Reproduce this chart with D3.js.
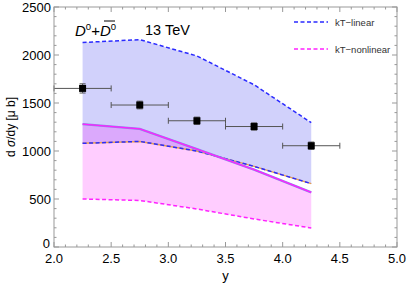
<!DOCTYPE html>
<html>
<head>
<meta charset="utf-8">
<script src="https://cdn.jsdelivr.net/npm/d3@7"></script>
<style>
  body { margin: 0; background: #fff; }
  text { font-family: "Liberation Sans", Arial, sans-serif; }
</style>
</head>
<body>
<div id="chart"></div>
<script>
// Data
const rapidity = [2.25, 2.75, 3.25, 3.75, 4.25];
const linearUpper = [2130, 2160, 1990, 1690, 1295];
const linearLower = [1080, 1100, 1000, 840, 660];
const nonlinUpper = [1280, 1230, 1020, 805, 570];
const nonlinLower = [500, 485, 396, 292, 198];

const dataY = [1652, 1479, 1315, 1255, 1055];
const dataYErr = [48, 40, 38, 38, 38];
const dataXErr = 0.25;

const xTicks = [2.0, 2.5, 3.0, 3.5, 4.0, 4.5, 5.0];
const yTicks = [0, 500, 1000, 1500, 2000, 2500];

const W = 407, H = 288;
const margin = { top: 7, right: 10, bottom: 41, left: 54 };

const svg = d3.select("#chart").append("svg").attr("width", W).attr("height", H);

const x = d3.scaleLinear().domain([2, 5]).range([margin.left, W - margin.right]);
const y = d3.scaleLinear().domain([0, 2500]).range([H - margin.bottom, margin.top]);

const band = (lo, hi) => d3.area()
    .x((d, i) => x(rapidity[i]))
    .y0((d, i) => y(lo[i]))
    .y1((d, i) => y(hi[i]))(rapidity);
const line = vals => d3.line().x((d, i) => x(rapidity[i])).y(d => y(d))(vals);

// Bands
svg.append("path").attr("d", band(linearLower, linearUpper))
    .attr("fill", "rgb(40,40,235)").attr("fill-opacity", 0.21);
svg.append("path").attr("d", band(nonlinLower, nonlinUpper))
    .attr("fill", "rgb(255,40,255)").attr("fill-opacity", 0.23);

// Curves
svg.append("path").attr("d", line(linearUpper)).attr("fill", "none")
    .attr("stroke", "#2a2aff").attr("stroke-width", 1.5).attr("stroke-dasharray", "4,2.5");
svg.append("path").attr("d", line(linearLower)).attr("fill", "none")
    .attr("stroke", "#e8a050").attr("stroke-width", 1.5);
svg.append("path").attr("d", line(linearLower)).attr("fill", "none")
    .attr("stroke", "#2a2aff").attr("stroke-width", 1.5).attr("stroke-dasharray", "4,2.5");
svg.append("path").attr("d", line(nonlinUpper)).attr("fill", "none")
    .attr("stroke", "#8a8ae8").attr("stroke-width", 2.4);
svg.append("path").attr("d", line(nonlinUpper)).attr("fill", "none")
    .attr("stroke", "#ff22ff").attr("stroke-width", 1.3);
svg.append("path").attr("d", line(nonlinLower)).attr("fill", "none")
    .attr("stroke", "#ff22ff").attr("stroke-width", 1.5).attr("stroke-dasharray", "4,2.5");

// Data points with error bars
const pts = svg.append("g");
rapidity.forEach((r, i) => {
  const cx = x(r), cy = y(dataY[i]);
  const g = pts.append("g").attr("stroke", "#555").attr("stroke-width", 1);
  g.append("line").attr("x1", x(r - dataXErr)).attr("x2", x(r + dataXErr)).attr("y1", cy).attr("y2", cy);
  g.append("line").attr("x1", x(r - dataXErr)).attr("x2", x(r - dataXErr)).attr("y1", cy - 3).attr("y2", cy + 3);
  g.append("line").attr("x1", x(r + dataXErr)).attr("x2", x(r + dataXErr)).attr("y1", cy - 3).attr("y2", cy + 3);
  g.append("line").attr("x1", cx).attr("x2", cx).attr("y1", y(dataY[i] + dataYErr[i])).attr("y2", y(dataY[i] - dataYErr[i]));
  g.append("line").attr("x1", cx - 3).attr("x2", cx + 3).attr("y1", y(dataY[i] + dataYErr[i])).attr("y2", y(dataY[i] + dataYErr[i]));
  g.append("line").attr("x1", cx - 3).attr("x2", cx + 3).attr("y1", y(dataY[i] - dataYErr[i])).attr("y2", y(dataY[i] - dataYErr[i]));
  pts.append("rect").attr("x", cx - 3.5).attr("y", cy - 3.5).attr("width", 7).attr("height", 7).attr("fill", "#000");
});

// Frame with inward ticks on all sides
const frameColor = "#999";
const x0 = x(2), x1 = x(5), y0 = y(0), y1 = y(2500);
const axisG = svg.append("g").attr("stroke", frameColor).attr("stroke-width", 1);
axisG.append("rect").attr("x", x0).attr("y", y1).attr("width", x1 - x0).attr("height", y0 - y1).attr("fill", "none");

d3.range(20, 51).map(v => v / 10).forEach(v => {
  const major = Math.abs(v * 2 - Math.round(v * 2)) < 1e-6;
  const len = major ? 5 : 2.5;
  axisG.append("line").attr("x1", x(v)).attr("x2", x(v)).attr("y1", y0).attr("y2", y0 - len);
  axisG.append("line").attr("x1", x(v)).attr("x2", x(v)).attr("y1", y1).attr("y2", y1 + len);
});
d3.range(0, 2501, 100).forEach(v => {
  const len = v % 500 === 0 ? 5 : 2.5;
  axisG.append("line").attr("x1", x0).attr("x2", x0 + len).attr("y1", y(v)).attr("y2", y(v));
  axisG.append("line").attr("x1", x1).attr("x2", x1 - len).attr("y1", y(v)).attr("y2", y(v));
});

// Tick labels
svg.append("g").selectAll("text").data(xTicks).join("text")
    .attr("x", d => x(d)).attr("y", y0 + 16).attr("text-anchor", "middle")
    .attr("font-size", 13).text(d => d.toFixed(1));
svg.append("g").selectAll("text").data(yTicks).join("text")
    .attr("x", d => x0 - (d === 0 ? 4 : 3)).attr("y", d => y(d) + (d === 0 ? 0.5 : 4.5)).attr("text-anchor", "end")
    .attr("font-size", 13).text(d => d);

// Axis titles
svg.append("text").attr("x", (x0 + x1) / 2).attr("y", H - 8).attr("text-anchor", "middle")
    .attr("font-size", 13).text("y");
const yl = svg.append("text").attr("transform", `translate(15,${(y0 + y1) / 2}) rotate(-90)`)
    .attr("text-anchor", "middle").attr("font-size", 12);
yl.append("tspan").text("d ");
yl.append("tspan").attr("font-style", "italic").text("σ");
yl.append("tspan").text("/dy [μ b]");

// Annotations
const t1 = svg.append("text").attr("x", 75).attr("y", 36).attr("font-size", 15).attr("font-style", "italic");
t1.append("tspan").text("D");
t1.append("tspan").attr("font-size", 9.5).attr("dy", -6.5).attr("font-style", "normal").text("0");
t1.append("tspan").attr("dy", 6.5).attr("font-style", "normal").text("+");
t1.append("tspan").text("D");
t1.append("tspan").attr("font-size", 9.5).attr("dy", -6.5).attr("font-style", "normal").text("0");
// overline on second D
svg.append("line").attr("x1", 104).attr("x2", 115).attr("y1", 21).attr("y2", 21)
    .attr("stroke", "#000").attr("stroke-width", 1);
svg.append("text").attr("x", 145).attr("y", 35).attr("font-size", 14.5).text("13 TeV");

// Legend
const legend = [
  { label: "kT\u2212linear", color: "#2a2aff", yy: 22 },
  { label: "kT\u2212nonlinear", color: "#ff22ff", yy: 49 }
];
legend.forEach(l => {
  svg.append("line").attr("x1", 294).attr("x2", 328).attr("y1", l.yy).attr("y2", l.yy)
      .attr("stroke", l.color).attr("stroke-width", 1.5).attr("stroke-dasharray", "4,2.5");
  svg.append("text").attr("x", 335).attr("y", l.yy + 3.5).attr("font-size", 9.5).attr("fill", "#333").text(l.label);
});
</script>
</body>
</html>
